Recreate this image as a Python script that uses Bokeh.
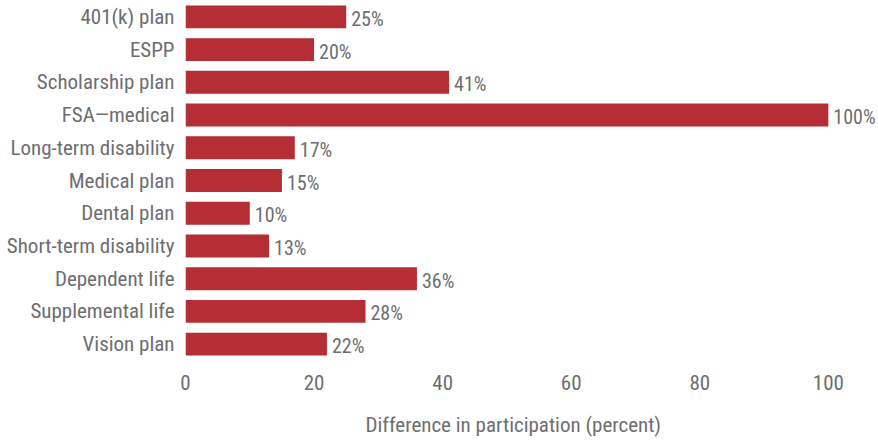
from bokeh.plotting import figure
from bokeh.models import ColumnDataSource, Range1d, FactorRange, Title
from bokeh.core.properties import value
from bokeh.embed import file_html
from bokeh.resources import INLINE

categories = ["401(k) plan", "ESPP", "Scholarship plan", "FSA\u2014medical",
              "Long-term disability", "Medical plan", "Dental plan",
              "Short-term disability", "Dependent life", "Supplemental life",
              "Vision plan"]
values = [25, 20, 41, 100, 17, 15, 10, 13, 36, 28, 22]
labels = [f"{v}%" for v in values]
x_ticks = [0, 20, 40, 60, 80, 100]
x_title = "Difference in participation (percent)"

FONT = "'Liberation Sans Narrow', 'Roboto Condensed', 'Liberation Sans', sans-serif"
GRAY = "#6d6e71"
RED = "#b52d35"
FS = "21px"

src = ColumnDataSource(dict(cat=categories, val=values, lab=labels))

p = figure(width=878, height=441, output_backend="svg", toolbar_location=None,
           y_range=FactorRange(factors=list(reversed(categories)), range_padding=0),
           x_range=Range1d(0, 107.8),
           min_border_left=185, min_border_right=0, min_border_top=0,
           min_border_bottom=0)
p.hbar(y="cat", right="val", left=0, height=0.7, source=src,
       fill_color=RED, line_color=None)
p.text(x="val", y="cat", text="lab", source=src, x_offset=5, y_offset=2,
       text_baseline="middle", text_align="left",
       text_font=value(FONT), text_font_size="20px", text_color=GRAY)

p.outline_line_color = None
p.xgrid.grid_line_color = None
p.ygrid.grid_line_color = None
for ax in (p.xaxis[0], p.yaxis[0]):
    ax.axis_line_color = None
    ax.major_tick_line_color = None
    ax.minor_tick_line_color = None
    ax.major_label_text_font = FONT
    ax.major_label_text_font_size = FS
    ax.major_label_text_color = GRAY
p.yaxis.major_label_standoff = 5
p.xaxis.ticker = x_ticks
p.xaxis.major_label_standoff = 8

spacer = Title(text=" ", text_font_size="10px", standoff=0)
p.add_layout(spacer, "below")
t = Title(text=x_title, align="left", offset=180, text_font=FONT,
          text_font_size=FS, text_font_style="normal", text_color=GRAY,
          standoff=10)
p.add_layout(t, "below")

open("out.html", "w").write(file_html(p, INLINE))
